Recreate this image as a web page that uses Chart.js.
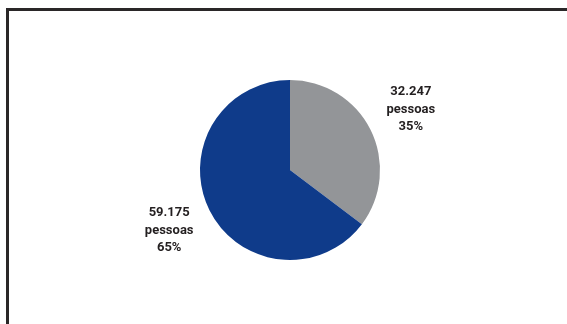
<!DOCTYPE html>
<html>
<head>
<meta charset="utf-8">
<script src="https://cdn.jsdelivr.net/npm/chart.js@4"></script>
<style>
    html, body { margin: 0; padding: 0; background: #fff; }
    #wrap { position: relative; width: 567px; height: 324px; overflow: hidden; }
    #frame {
        position: absolute; left: 6px; top: 8px; width: 600px; height: 400px;
        border-top: 3px solid #2a2728; border-left: 3px solid #2a2728;
    }
    canvas { position: absolute; left: 0; top: 0; }
</style>
</head>
<body>
<div id="wrap">
    <div id="frame"></div>
    <canvas id="pie-chart" width="567" height="324"></canvas>
</div>
<script>
const categories = ['32.247 pessoas', '59.175 pessoas'];
const pessoas = [32247, 59175];
const countText = ['32.247', '59.175'];
const percentText = ['35%', '65%'];
const colors = ['#939598', '#0f3b8a'];

{
    const ctx = document.getElementById('pie-chart').getContext('2d');

    // 标签放在扇形外面
    const outsideLabels = {
        id: 'outsideLabels',
        afterDatasetsDraw(chart) {
            const c = chart.ctx;
            const meta = chart.getDatasetMeta(0);
            c.save();
            c.fillStyle = '#231f20';
            c.font = 'bold 13px Roboto, "Liberation Sans", sans-serif';
            c.textAlign = 'center';
            c.textBaseline = 'middle';
            meta.data.forEach((arc, i) => {
                const { x, y, startAngle, endAngle, outerRadius } = arc.getProps(['x', 'y', 'startAngle', 'endAngle', 'outerRadius'], true);
                const mid = (startAngle + endAngle) / 2;
                const r = outerRadius * 1.5;
                const lx = x + Math.cos(mid) * r;
                const ly = y + Math.sin(mid) * r;
                const lines = [countText[i], 'pessoas', percentText[i]];
                lines.forEach((t, k) => c.fillText(t, lx, ly + (k - 1) * 17.5));
            });
            c.restore();
        }
    };

    new Chart(ctx, {
        type: 'pie',
        data: {
            labels: categories,
            datasets: [{
                data: pessoas,
                backgroundColor: colors,
                borderWidth: 0,
            }],
        },
        options: {
            responsive: false,
            animation: false,
            layout: {
                padding: { left: 200, right: 187, top: 80, bottom: 64 },
            },
            plugins: {
                legend: { display: false },
                tooltip: { enabled: false },
            },
        },
        plugins: [outsideLabels],
    });
}
</script>
</body>
</html>
